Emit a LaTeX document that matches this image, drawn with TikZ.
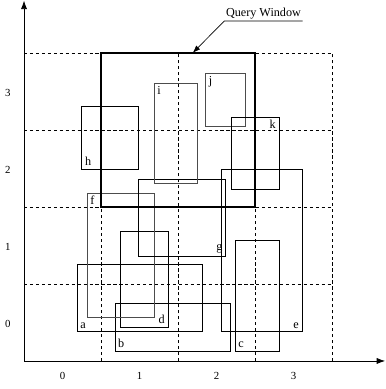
\documentclass[tikz,border=0pt]{standalone}
\usepackage{fontspec}
\setmainfont{Liberation Serif}
\usepackage{tikz}
\usetikzlibrary{arrows.meta,positioning}

\begin{document}
\begin{tikzpicture}[
  x=2cm, y=2cm,
  axis/.style={-{Latex[length=2.2mm,width=1.6mm]}, line width=0.6pt},
  grid/.style={dash pattern=on 2.4pt off 2pt, line width=0.5pt},
  mbr/.style={draw, line width=0.55pt},
  query/.style={draw, line width=1.3pt},
  lbl/.style={font=\small, inner sep=2.2pt},
  tick/.style={font=\footnotesize}
]
\useasboundingbox (-0.312,-0.364) rectangle (4.701,4.688);

% axes
\coordinate (O) at (0,0);
\coordinate (xend) at (4.69,0);
\coordinate (yend) at (0,4.68);
\draw[axis] (O) -- (xend);
\draw[axis] (O) -- (yend);

% grid cells
\draw[grid] (1,0) -- (1,4);
\draw[grid] (2,0) -- (2,4);
\draw[grid] (3,0) -- (3,4);
\draw[grid] (4,0) -- (4,4);
\draw[grid] (0,1) -- (4,1);
\draw[grid] (0,2) -- (4,2);
\draw[grid] (0,3) -- (4,3);
\draw[grid] (0,4) -- (4,4);

\node[tick] (x0) at (0.5,-0.2) {0};
\node[tick] (x1) at (1.5,-0.2) {1};
\node[tick] (x2) at (2.5,-0.2) {2};
\node[tick] (x3) at (3.5,-0.2) {3};
\node[tick] (y0) at (-0.21,0.48) {0};
\node[tick] (y1) at (-0.21,1.48) {1};
\node[tick] (y2) at (-0.21,2.48) {2};
\node[tick] (y3) at (-0.21,3.48) {3};

% data rectangles
\draw[mbr] (0.69,0.38) rectangle (2.31,1.25);
\draw[mbr] (1.18,0.13) rectangle (2.68,0.75);
\draw[mbr] (2.74,0.13) rectangle (3.31,1.56);
\draw[mbr] (1.25,0.44) rectangle (1.87,1.68);
\draw[mbr] (2.56,0.38) rectangle (3.61,2.49);
\draw[mbr, draw=black!70] (0.82,0.57) rectangle (1.69,2.18);
\draw[mbr] (1.49,1.36) rectangle (2.62,2.36);
\draw[mbr] (0.75,2.49) rectangle (1.49,3.30);
\draw[mbr, draw=black!70] (1.69,2.31) rectangle (2.25,3.61);
\draw[mbr, draw=black!70] (2.36,3.05) rectangle (2.87,3.74);
\draw[mbr] (2.69,2.23) rectangle (3.31,3.17);

\node[lbl, anchor=south west] (a) at (0.69,0.38) {a};
\node[lbl, anchor=south west] (b) at (1.18,0.13) {b};
\node[lbl, anchor=south west] (c) at (2.74,0.13) {c};
\node[lbl, anchor=south east] (d) at (1.87,0.44) {d};
\node[lbl, anchor=south east] (e) at (3.61,0.38) {e};
\node[lbl, anchor=north west] (f) at (0.82,2.18) {f};
\node[lbl, anchor=south east] (g) at (2.62,1.36) {g};
\node[lbl, anchor=south west] (h) at (0.75,2.49) {h};
\node[lbl, anchor=north west] (i) at (1.69,3.61) {i};
\node[lbl, anchor=north west] (j) at (2.36,3.74) {j};
\node[lbl, anchor=north east] (k) at (3.31,3.17) {k};

% query window
\draw[query] (1,2) rectangle (3,4);
\coordinate (qtip) at (2.19,4.0);
\node[font=\small, inner sep=1pt, anchor=south, minimum width=2cm] (qw) at (3.11,4.416) {Query Window};
\draw[-{Latex[length=2mm,width=1.4mm]}, line width=0.5pt] (qw.south east) -- (qw.south west) -- (qtip);
\end{tikzpicture}
\end{document}
